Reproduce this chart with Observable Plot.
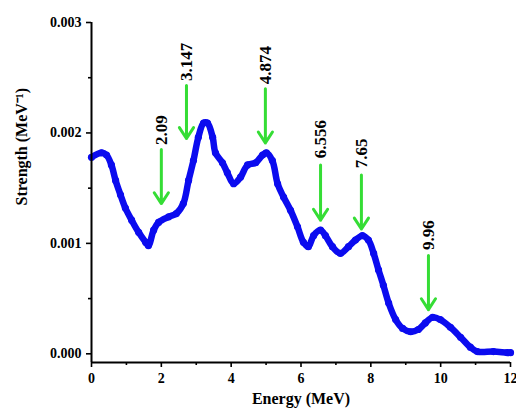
<!DOCTYPE html>
<html><head><meta charset="utf-8">
<script src="https://cdn.jsdelivr.net/npm/d3@7"></script>
<script src="https://cdn.jsdelivr.net/npm/@observablehq/plot@0.6"></script>
<style>body{margin:0;background:#fff}</style>
</head><body><div id="chart"></div>
<script>
const energy = [0, 0.29, 0.43, 0.57, 0.69, 0.83, 0.97, 1.15, 1.35, 1.55, 1.63, 1.78, 1.92, 2.21, 2.43, 2.63, 2.78, 2.92, 3.06, 3.21, 3.32, 3.47, 3.55, 3.75, 3.89, 4.07, 4.27, 4.47, 4.70, 4.90, 5.01, 5.18, 5.33, 5.50, 5.70, 5.90, 6.07, 6.21, 6.36, 6.56, 6.70, 6.90, 7.13, 7.36, 7.56, 7.76, 7.93, 8.08, 8.22, 8.36, 8.51, 8.71, 8.91, 9.14, 9.36, 9.56, 9.77, 9.99, 10.28, 10.57, 10.85, 11.05, 11.51, 11.91, 12.0];
const strength = [0.00178, 0.00182, 0.00180, 0.00171, 0.00157, 0.00144, 0.00132, 0.00121, 0.00110, 0.00101, 0.00098, 0.00112, 0.00119, 0.00124, 0.00127, 0.00136, 0.00157, 0.00175, 0.00196, 0.00209, 0.00209, 0.00196, 0.00182, 0.00173, 0.00164, 0.00154, 0.00160, 0.00171, 0.00173, 0.00180, 0.00182, 0.00175, 0.00154, 0.00142, 0.00130, 0.00115, 0.00101, 0.00097, 0.00107, 0.00112, 0.00107, 0.00097, 0.00091, 0.00097, 0.00103, 0.00107, 0.00103, 0.00091, 0.00076, 0.00062, 0.00046, 0.00031, 0.00023, 0.00020, 0.00022, 0.00028, 0.00033, 0.00031, 0.00024, 0.00015, 0.00006, 0.00002, 0.00002, 0.00001, 0.00001];

const peakLabels = ["2.09", "3.147", "4.874", "6.556", "7.65", "9.96"];
const arrowX    = [2.00, 2.72, 4.98, 6.56, 7.73, 9.65];
const arrowTail = [0.00185, 0.00243, 0.00240, 0.00171, 0.00162, 0.00089];
const arrowTip  = [0.00136, 0.00195, 0.00191, 0.00121, 0.00113, 0.00040];
const labelBase = [0.00189, 0.00247, 0.00244, 0.00177, 0.00168, 0.00094];

const xTicks = [0, 2, 4, 6, 8, 10, 12];
const xMinor = [1, 3, 5, 7, 9, 11];
const yTicks = [0, 0.001, 0.002, 0.003];
const yMinor = [0.0005, 0.0015, 0.0025];

const xTitle = "Energy (MeV)";
const yTitle = "Strength (MeV\u207B\u00B9)";

const curve = energy.map((e, i) => ({e, s: strength[i]}));
const peaks = peakLabels.map((t, i) => ({t, x: arrowX[i], y1: arrowTail[i], y2: arrowTip[i], yl: labelBase[i]}));

const yMin = -0.0000786;
const blue = "#0b0bef";
const green = "#35dd35";
const font = "'Liberation Serif', 'Times New Roman', serif";

const chart = Plot.plot({
  width: 516,
  height: 412,
  marginLeft: 91,
  marginRight: 6,
  marginTop: 22,
  marginBottom: 50,
  style: {fontFamily: font, fontWeight: "bold", fontSize: "14px", background: "white", color: "black"},
  x: {domain: [0, 12]},
  y: {domain: [yMin, 0.003]},
  marks: [
    Plot.line(curve, {x: "e", y: "s", stroke: blue, strokeWidth: 6.5, curve: "catmull-rom"}),
    Plot.dot(curve, {x: "e", y: "s", r: 3.6, fill: blue, stroke: "none"}),
    Plot.arrow(peaks, {x: "x", y1: "y1", y2: "y2", stroke: green, strokeWidth: 3, headLength: 6.5, headAngle: 66}),
    Plot.text(peaks, {x: "x", y: "yl", text: "t", rotate: -90, textAnchor: "start", lineAnchor: "middle", fontSize: 17, fontWeight: "bold", fill: "black"}),
    Plot.ruleX([0], {strokeWidth: 2}),
    Plot.ruleY([yMin], {strokeWidth: 2}),
    Plot.axisX(xTicks, {tickSize: 5, tickPadding: 6, strokeWidth: 1.6, fontSize: 14, tickFormat: d => String(d), label: null}),
    Plot.axisX(xMinor, {tickSize: 3, strokeWidth: 1.6, tickFormat: () => "", label: null}),
    Plot.axisY(yTicks, {tickSize: 5, tickPadding: 5, strokeWidth: 1.6, fontSize: 14, tickFormat: d3.format(".3f"), label: null}),
    Plot.axisY(yMinor, {tickSize: 3, strokeWidth: 1.6, tickFormat: () => "", label: null}),
    Plot.text([yTitle], {text: d => d, frameAnchor: "left", dx: -70, dy: 13, rotate: -90, fontSize: 16, fontWeight: "bold", fill: "black"}),
    Plot.text([xTitle], {text: d => d, frameAnchor: "bottom", dy: 41, fontSize: 16, fontWeight: "bold", fill: "black"})
  ]
});
document.getElementById("chart").appendChild(chart);
</script>
</body></html>
